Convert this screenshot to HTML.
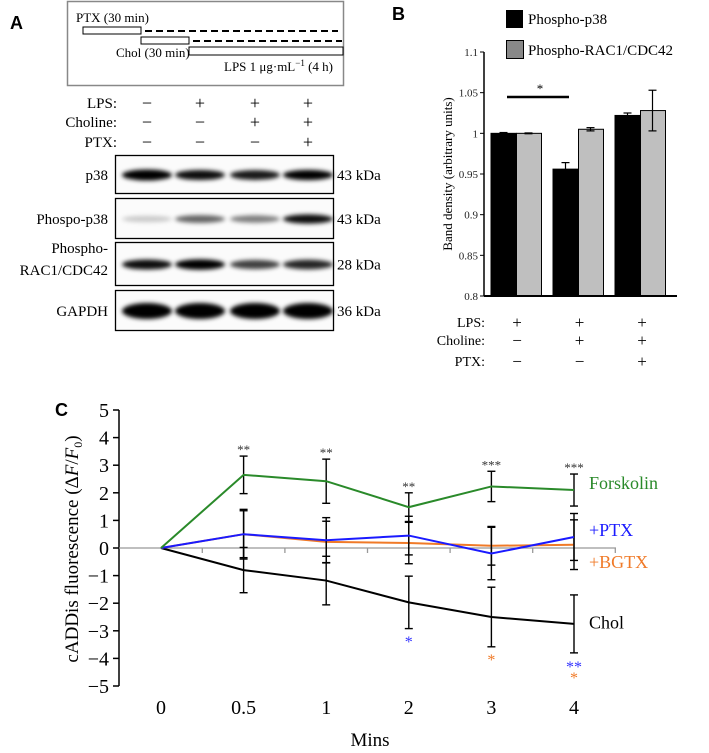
<!DOCTYPE html>
<html><head><meta charset="utf-8"><style>
html,body{margin:0;padding:0;background:#fff;overflow:hidden;}
svg{display:block;font-family:"Liberation Serif",serif;}
</style></head><body>
<svg id="fig" width="709" height="753" viewBox="0 0 709 753" xmlns="http://www.w3.org/2000/svg">
<defs><filter id="blur" x="-20%" y="-100%" width="140%" height="300%"><feGaussianBlur stdDeviation="2.2"/></filter></defs>
<g>
<text x="10" y="29" font-family="Liberation Sans, sans-serif" font-weight="bold" font-size="18">A</text>
<rect x="67.5" y="1.5" width="276" height="84" fill="none" stroke="#888" stroke-width="1.5"/>
<text x="76" y="22" font-size="13">PTX (30 min)</text>
<rect x="83" y="27" width="58" height="7" fill="#fff" stroke="#000"/>
<line x1="145" y1="31" x2="338" y2="31" stroke="#000" stroke-width="2" stroke-dasharray="7,4"/>
<rect x="141" y="37" width="48" height="7" fill="#fff" stroke="#000"/>
<line x1="193" y1="41" x2="342" y2="41" stroke="#000" stroke-width="2" stroke-dasharray="7,4"/>
<text x="116" y="57" font-size="13">Chol (30 min)</text>
<rect x="189" y="47" width="154" height="8" fill="#fff" stroke="#000"/>
<text x="224" y="71" font-size="13">LPS 1 μg·mL<tspan dy="-5" font-size="9">−1</tspan><tspan dy="5">  (4 h)</tspan></text>
<g font-size="15">
<text x="117" y="108" text-anchor="end">LPS:</text>
<text x="117" y="127" text-anchor="end">Choline:</text>
<text x="117" y="147" text-anchor="end">PTX:</text>
</g>
<g id="tableA" font-size="18" text-anchor="middle"></g>
<g id="blots"></g>
</g>
<g>
<text x="392" y="20" font-family="Liberation Sans, sans-serif" font-weight="bold" font-size="18">B</text>
<rect x="506" y="10" width="17" height="18" fill="#000"/>
<text x="528" y="24" font-size="15">Phospho-p38</text>
<rect x="506.5" y="40.5" width="17" height="18" fill="#888" stroke="#000"/>
<text x="528" y="55" font-size="15">Phospho-RAC1/CDC42</text>
<text transform="translate(452,174) rotate(-90)" text-anchor="middle" font-size="13">Band density (arbitrary units)</text>
<g id="chartB"></g>
<g font-size="14">
<text x="485" y="327" text-anchor="end">LPS:</text>
<text x="485" y="345" text-anchor="end">Choline:</text>
<text x="485" y="366" text-anchor="end">PTX:</text>
</g>
<g id="tableB" font-size="17" text-anchor="middle"></g>
</g>
<g>
<text x="55" y="416" font-family="Liberation Sans, sans-serif" font-weight="bold" font-size="18">C</text>
<text transform="translate(78,549) rotate(-90)" text-anchor="middle" font-size="19">cADDis fluorescence (Δ<tspan font-style="italic">F</tspan>/<tspan font-style="italic">F</tspan><tspan font-size="12" dy="4">0</tspan><tspan dy="-4">)</tspan></text>
<text x="370" y="746" text-anchor="middle" font-size="19">Mins</text>
<g id="chartC"></g>
</g>
</svg>
<script>
// ---------- Panel A data ----------
const aLPS = ['−','+','+','+'];
const aChol = ['−','−','+','+'];
const aPTX = ['−','−','−','+'];
const blotNames = ['p38','Phospo-p38','Phospho-RAC1/CDC42','GAPDH'];
const blotKda = ['43 kDa','43 kDa','28 kDa','36 kDa'];
const bandP38 = [1.0,0.8,0.75,0.85];
const bandPP38 = [0.05,0.45,0.35,0.8];
const bandRAC = [0.8,0.9,0.6,0.7];
const bandGAPDH = [1.0,1.0,1.0,1.0];

// ---------- Panel B data ----------
const bCats = ['LPS','LPS+Chol','LPS+Chol+PTX'];
const bP38 = [1.0,0.956,1.022];
const bP38Err = [0.001,0.008,0.003];
const bRac = [1.0,1.005,1.028];
const bRacErr = [0.0005,0.002,0.025];
const bTicks = [0.8,0.85,0.9,0.95,1,1.05,1.1];
const bLPS = ['+','+','+'];
const bChol = ['−','+','+'];
const bPTX = ['−','−','+'];

// ---------- Panel C data ----------
const cCats = ['0','0.5','1','2','3','4'];
const cForsk = [0,2.65,2.42,1.48,2.23,2.1];
const cForskErr = [0,0.68,0.8,0.52,0.55,0.58];
const cPTX = [0,0.5,0.28,0.45,-0.2,0.4];
const cPTXErr = [0,0.85,0.82,0.7,0.95,0.85];
const cBGTX = [0,0.5,0.22,0.18,0.08,0.12];
const cBGTXErr = [0,0.9,0.75,0.75,0.7,0.9];
const cChol = [0,-0.8,-1.18,-1.97,-2.5,-2.75];
const cCholErr = [0,0.82,0.88,0.95,1.08,1.05];
const cTicks = [-5,-4,-3,-2,-1,0,1,2,3,4,5];
const cStars = ['','**','**','**','***','***'];

const NS='http://www.w3.org/2000/svg';
function mk(parent,tag,attrs,text){const e=document.createElementNS(NS,tag);for(const k in attrs)e.setAttribute(k,attrs[k]);if(text!==undefined)e.textContent=text;parent.appendChild(e);return e;}

const tA=document.getElementById('tableA');
const aCols=[147,200,255,308];
[[aLPS,108],[aChol,127],[aPTX,147]].forEach(([arr,y])=>{arr.forEach((s,i)=>{
 const t=mk(tA,'text',{x:aCols[i],y:y+1},s);
 
 
});});
const gB=document.getElementById('blots');
const blotY=[[155,193],[198,238],[242,285],[290,330]];
const bands=[bandP38,bandPP38,bandRAC,bandGAPDH];
const bandH=[9,8,9,14];
blotY.forEach(([y0,y1],r)=>{
 const rr=mk(gB,'rect',{x:115.5,y:y0+0.5,width:218,height:y1-y0,fill:'#fbfbfb',stroke:'#000','stroke-width':1.3});
 
 
 const cy=(y0+y1)/2+1;
 bands[r].forEach((v,i)=>{
  const e=mk(gB,'ellipse',{cx:aCols[i],cy:cy,rx:25,ry:bandH[r]*(0.5+0.5*v)/2+1,fill:'#000','fill-opacity':Math.min(1,0.15+v),filter:'url(#blur)'});
  
  
 });
 const kd=mk(gB,'text',{x:337,y:cy+5,'font-size':15},blotKda[r]);
 
 
 let lab;
 if(r===2){lab=mk(gB,'text',{x:108,'font-size':15,'text-anchor':'end'});
  mk(lab,'tspan',{x:108,y:253},'Phospho-');mk(lab,'tspan',{x:108,y:275},'RAC1/CDC42');}
 else lab=mk(gB,'text',{x:108,y:cy+5,'font-size':15,'text-anchor':'end'},blotNames[r]);
 
 
});

const cB=document.getElementById('chartB');
const bx0=484,bxEnd=677,by0=296,by1=52;
const yB=v=>by0-(v-0.8)/(0.3)*(by0-by1);
const xB=i=>516+i*62;
const bw=25;
bTicks.forEach(t=>{
 const tl=mk(cB,'text',{x:478,y:yB(t)+4,'font-size':11,'text-anchor':'end',fill:'#222'},String(t));
 
 
 const tk=mk(cB,'line',{x1:bx0-4,x2:bx0,y1:yB(t),y2:yB(t),stroke:'#000'});
 
 
});
function errB(x,v,e){
 const g=mk(cB,'g',{stroke:'#000','stroke-width':1.2});
 
 
 mk(g,'line',{x1:x,x2:x,y1:yB(v-e),y2:yB(v+e)});
 mk(g,'line',{x1:x-4,x2:x+4,y1:yB(v+e),y2:yB(v+e)});
 mk(g,'line',{x1:x-4,x2:x+4,y1:yB(v-e),y2:yB(v-e)});
}
bCats.forEach((c,i)=>{
 const r1=mk(cB,'rect',{x:xB(i)-bw,y:yB(bP38[i]),width:bw,height:by0-yB(bP38[i]),fill:'#000',stroke:'#000'});
 
 
 const r2=mk(cB,'rect',{x:xB(i)+0.5,y:yB(bRac[i]),width:bw,height:by0-yB(bRac[i]),fill:'#bfbfbf',stroke:'#000'});
 
 
 errB(xB(i)-bw/2,bP38[i],bP38Err[i]);
 errB(xB(i)+bw/2,bRac[i],bRacErr[i]);
});
const axY=mk(cB,'line',{x1:bx0,x2:bx0,y1:by1,y2:by0,stroke:'#000','stroke-width':1.5});


const axX=mk(cB,'line',{x1:bx0,x2:bxEnd,y1:by0,y2:by0,stroke:'#000','stroke-width':2});


const sig=mk(cB,'line',{x1:507,x2:569,y1:97,y2:97,stroke:'#000','stroke-width':2.5});


const sigS=mk(cB,'text',{x:540,y:93,'font-size':13,'text-anchor':'middle'},'*');


const tBt=document.getElementById('tableB');
[[bLPS,327],[bChol,345],[bPTX,366]].forEach(([arr,y])=>{arr.forEach((s,i)=>{
 const t=mk(tBt,'text',{x:517+i*62.5,y:y+1},s);
 
 
});});

// Panel C chart
const cC=document.getElementById('chartC');
const cy0=548,cUnit=27.6,cxAxis=119;
const yC=v=>cy0-v*cUnit;
const xC=i=>161+i*82.6;
cTicks.forEach(t=>{
 const tl=mk(cC,'text',{x:cxAxis-10,y:yC(t)+7,'font-size':20,'text-anchor':'end'},t<0?'−'+Math.abs(t):String(t));
 
 
 const tk=mk(cC,'line',{x1:cxAxis-6,x2:cxAxis,y1:yC(t),y2:yC(t),stroke:'#000','stroke-width':1.5});
 
 
});
const yAx=mk(cC,'line',{x1:cxAxis,x2:cxAxis,y1:yC(5),y2:yC(-5),stroke:'#000','stroke-width':1.5});


const zAx=mk(cC,'line',{x1:cxAxis,x2:616,y1:cy0,y2:cy0,stroke:'#999','stroke-width':1.3});


for(let i=0;i<cCats.length;i++){
 const x=xC(i)+41.3;
 const tk=mk(cC,'line',{x1:x,x2:x,y1:cy0,y2:cy0+5,stroke:'#999','stroke-width':1.3});
 
 
}
cCats.forEach((c,i)=>{
 const tl=mk(cC,'text',{x:xC(i),y:714,'font-size':20,'text-anchor':'middle'},c);
 
 
});
function series(vals,errs,color,name){
 errs.forEach((e,i)=>{ if(!e) return;
  const g=mk(cC,'g',{stroke:'#000','stroke-width':1.4});
  
  
  mk(g,'line',{x1:xC(i),x2:xC(i),y1:yC(vals[i]-e),y2:yC(vals[i]+e)});
  mk(g,'line',{x1:xC(i)-4,x2:xC(i)+4,y1:yC(vals[i]+e),y2:yC(vals[i]+e)});
  mk(g,'line',{x1:xC(i)-4,x2:xC(i)+4,y1:yC(vals[i]-e),y2:yC(vals[i]-e)});
 });
 const p=mk(cC,'polyline',{points:vals.map((v,i)=>xC(i)+','+yC(v)).join(' '),fill:'none',stroke:color,'stroke-width':2});
 
 
}
series(cChol,cCholErr,'#000','chol');
series(cBGTX,cBGTXErr,'#f07a28','bgtx');
series(cPTX,cPTXErr,'#1a1aff','ptx');
series(cForsk,cForskErr,'#2a8a2a','forskolin');
cStars.forEach((s,i)=>{ if(!s) return;
 const t=mk(cC,'text',{x:xC(i),y:yC(cForsk[i]+cForskErr[i])-2,'font-size':13,'text-anchor':'middle',fill:'#333'},s);
 
 
});
const stars2=[[3,-3.3,'*','#3333ff'],[4,-3.95,'*','#f07a28'],[5,-4.2,'**','#3333ff'],[5,-4.6,'*','#f07a28']];
stars2.forEach(([i,v,s,c])=>{
 const t=mk(cC,'text',{x:xC(i),y:yC(v)+8,'font-size':16,'text-anchor':'middle',fill:c},s);
 
 
});
const labs=[['Forskolin',2.35,'#2a8a2a'],['+PTX',0.65,'#1a1aff'],['+BGTX',-0.5,'#f07a28'],['Chol',-2.7,'#000']];
labs.forEach(([s,v,c])=>{
 const t=mk(cC,'text',{x:589,y:yC(v)+6,'font-size':18,fill:c},s);
 
 
});
</script>
</body></html>
